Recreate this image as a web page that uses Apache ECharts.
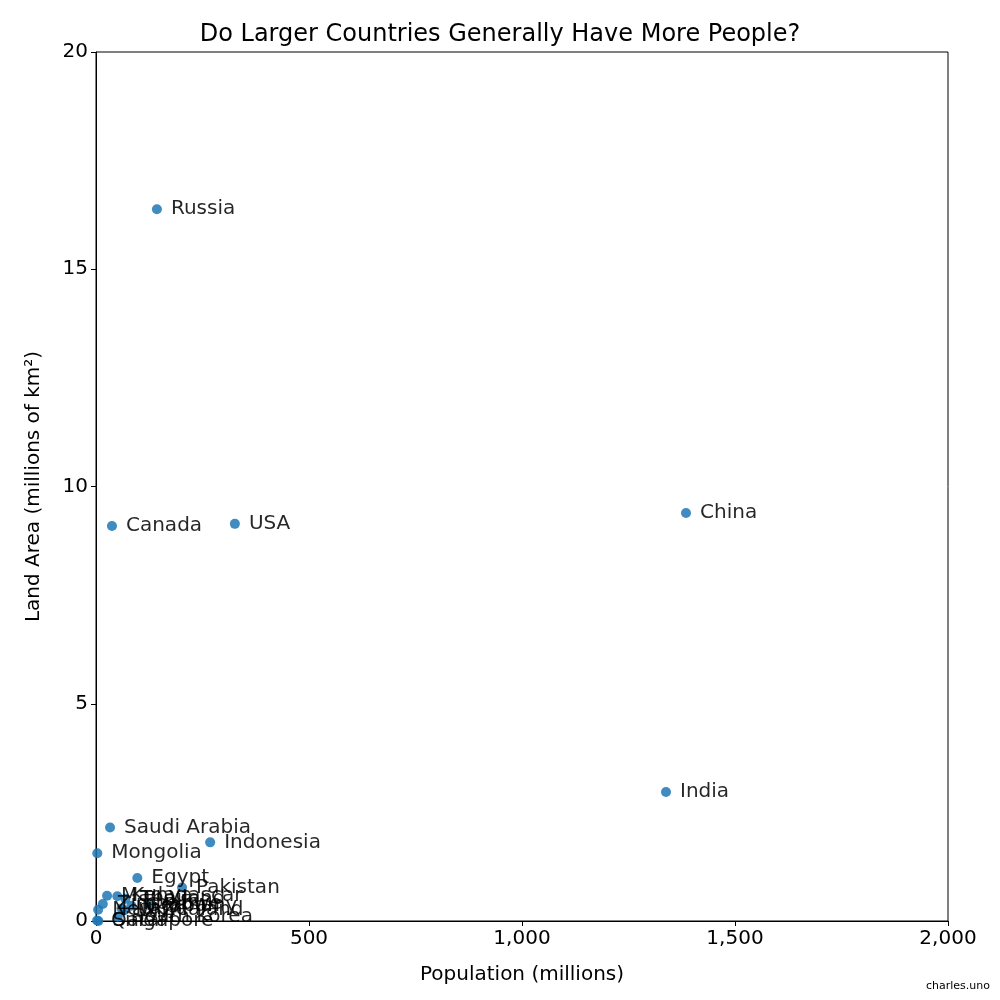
<!DOCTYPE html>
<html>
<head>
<meta charset="utf-8">
<script src="https://cdn.jsdelivr.net/npm/echarts@6/dist/echarts.min.js"></script>
<style>html,body{margin:0;padding:0;background:#fff}#main{width:1000px;height:1000px}</style>
</head>
<body>
<div id="main"></div>
<script>
// population (millions), land area (millions of km2)
var countries = ['Russia', 'Canada', 'USA', 'China', 'India', 'Saudi Arabia', 'Indonesia', 'Mongolia',
  'Egypt', 'Pakistan', 'Madagascar', 'Zimbabwe', 'Japan', 'Thailand', 'Kenya', 'New Zealand',
  'Germany', 'Italy', 'UK', 'South Korea', 'Qatar', 'Singapore'];
var population = [143, 37.5, 326, 1385, 1338, 33, 268, 3, 97, 202, 26, 16, 127, 69, 50, 5, 83, 60, 66, 51, 2.6, 5.6];
var landArea = [16.38, 9.09, 9.14, 9.39, 2.97, 2.15, 1.81, 1.56, 0.99, 0.77, 0.58, 0.39, 0.36, 0.51, 0.57, 0.26, 0.35, 0.29, 0.24, 0.1, 0.011, 0.0007];
var xTicks = [0, 500, 1000, 1500, 2000];
var yTicks = [0, 5, 10, 15, 20];

var points = countries.map(function (c, i) { return { name: c, value: [population[i], landArea[i]] }; });

echarts.init(document.getElementById('main')).setOption({
  textStyle: { fontFamily: 'DejaVu Sans' },
  title: {
    text: 'Do Larger Countries Generally Have More People?',
    left: 'center', top: 18,
    textStyle: { fontSize: 24, fontWeight: 'normal', color: '#000' }
  },
  graphic: [{
    type: 'text', right: 10, bottom: 8,
    style: { text: 'charles.uno', fontSize: 11, fill: '#000', fontFamily: 'DejaVu Sans' }
  }],
  grid: { left: 96, right: 52, top: 52, bottom: 79, show: true, borderColor: '#000', borderWidth: 1 },
  xAxis: {
    type: 'value', min: xTicks[0], max: xTicks[xTicks.length - 1], interval: 500,
    name: 'Population (millions)', nameLocation: 'middle', nameGap: 44,
    nameTextStyle: { fontSize: 20, color: '#000' },
    axisLine: { show: true, lineStyle: { color: '#000' } },
    axisTick: { show: true, length: 5, lineStyle: { color: '#000' } },
    axisLabel: { fontSize: 20, color: '#000', margin: 8 },
    splitLine: { show: false }
  },
  yAxis: {
    type: 'value', min: yTicks[0], max: yTicks[yTicks.length - 1], interval: 5,
    name: 'Land Area (millions of km²)', nameLocation: 'middle', nameGap: 52,
    nameTextStyle: { fontSize: 20, color: '#000' },
    axisLine: { show: true, lineStyle: { color: '#000' } },
    axisTick: { show: true, length: 5, lineStyle: { color: '#000' } },
    axisLabel: { fontSize: 20, color: '#000', margin: 8 },
    splitLine: { show: false }
  },
  series: [{
    type: 'scatter',
    symbolSize: 10,
    data: points,
    itemStyle: { color: '#1f77b4', opacity: 0.85 },
    label: {
      show: true, position: 'right', distance: 9,
      formatter: '{b}', fontSize: 20, color: '#000'
    },
    labelLayout: { hideOverlap: false }
  }]
});
</script>
</body>
</html>
